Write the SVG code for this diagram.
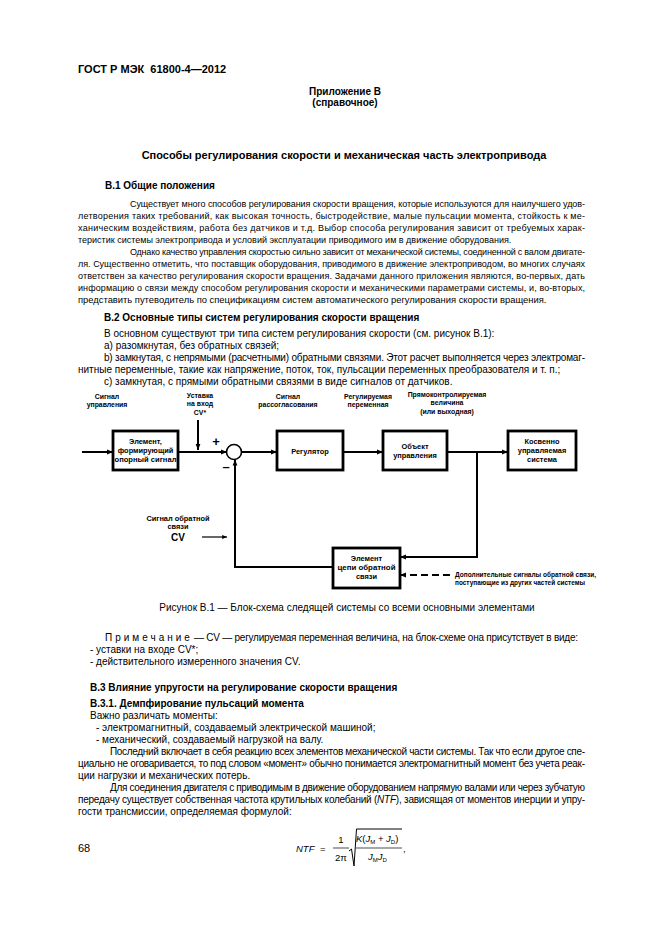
<svg xmlns="http://www.w3.org/2000/svg" width="661" height="935" viewBox="0 0 661 935">
<style>
text{font-family:"Liberation Sans",Arial,sans-serif;fill:#000}
.b{font-size:9px}
.b2{font-size:10px}
.h{font-size:10px;font-weight:bold}
.t{font-size:11px;font-weight:bold}
.d{font-size:6.9px;font-weight:bold;text-anchor:middle}
.dn{font-size:7.4px;font-weight:bold;text-anchor:middle}
.dl{font-size:6.4px;font-weight:bold}
.box{fill:#fff;stroke:#000;stroke-width:2.8}
.ln{fill:none;stroke:#000;stroke-width:2}
.th{fill:none;stroke:#000;stroke-width:1.2}
.c{text-anchor:middle}
.i{font-style:italic}
.f{font-size:9.5px}
</style>
<defs>
<marker id="ah" viewBox="0 0 10 10" refX="10" refY="5" markerWidth="3" markerHeight="3" orient="auto" markerUnits="strokeWidth"><path d="M0,1 L10,5 L0,9 z" fill="#000"/></marker>
<marker id="ah2" viewBox="0 0 10 10" refX="10" refY="5" markerWidth="5" markerHeight="4" orient="auto" markerUnits="strokeWidth"><path d="M0,1 L10,5 L0,9 z" fill="#000"/></marker>
</defs>
<rect width="661" height="935" fill="#fff"/>

<g id="page-text">
<text class="t" x="78" y="73" xml:space="preserve">ГОСТ Р МЭК  61800-4—2012</text>
<text class="h c" x="345" y="95">Приложение В</text>
<text class="h c" x="345" y="106">(справочное)</text>
<text class="t c" x="344" y="159">Способы регулирования скорости и механическая часть электропривода</text>

<text class="h" x="105" y="189">В.1 Общие положения</text>
<text class="b" x="130" y="207" textLength="455" lengthAdjust="spacing">Существует много способов регулирования скорости вращения, которые используются для наилучшего удов-</text>
<text class="b" x="78" y="219" textLength="507" lengthAdjust="spacing">летворения таких требований, как высокая точность, быстродействие, малые пульсации момента, стойкость к ме-</text>
<text class="b" x="78" y="231" textLength="507" lengthAdjust="spacing">ханическим воздействиям, работа без датчиков и т.д. Выбор способа регулирования зависит от требуемых харак-</text>
<text class="b" x="78" y="243">теристик системы электропривода и условий эксплуатации приводимого им в движение оборудования.</text>
<text class="b" x="130" y="255" textLength="455" lengthAdjust="spacing">Однако качество управления скоростью сильно зависит от механической системы, соединенной с валом двигате-</text>
<text class="b" x="78" y="267" textLength="507" lengthAdjust="spacing">ля. Существенно отметить, что поставщик оборудования, приводимого в движение электроприводом, во многих случаях</text>
<text class="b" x="78" y="279" textLength="507" lengthAdjust="spacing">ответствен за качество регулирования скорости вращения. Задачами данного приложения являются, во-первых, дать</text>
<text class="b" x="78" y="291" textLength="507" lengthAdjust="spacing">информацию о связи между способом регулирования скорости и механическими параметрами системы, и, во-вторых,</text>
<text class="b" x="78" y="303" style="font-size:9.4px">представить путеводитель по спецификациям систем автоматического регулирования скорости вращения.</text>

<text class="h" x="104" y="321">В.2 Основные типы систем регулирования скорости вращения</text>
<text class="b2" x="104" y="337">В основном существуют три типа систем регулирования скорости (см. рисунок В.1):</text>
<text class="b2" x="104" y="349">a) разомкнутая, без обратных связей;</text>
<text class="b2" x="104" y="361" textLength="481" lengthAdjust="spacing">b) замкнутая, с непрямыми (расчетными) обратными связями. Этот расчет выполняется через электромаг-</text>
<text class="b2" x="78" y="373">нитные переменные, такие как напряжение, поток, ток, пульсации переменных преобразователя и т. п.;</text>
<text class="b2" x="104" y="385">c) замкнутая, с прямыми обратными связями в виде сигналов от датчиков.</text>
</g>

<g id="labels">
<text class="d" x="107" y="399">Сигнал</text>
<text class="d" x="107" y="407">управления</text>
<text class="d" x="200" y="398">Уставка</text>
<text class="d" x="200" y="406">на вход</text>
<text class="d" x="200" y="415">CV*</text>
<text class="d" x="288" y="399">Сигнал</text>
<text class="d" x="288" y="407">рассогласования</text>
<text class="d" x="368" y="399">Регулируемая</text>
<text class="d" x="368" y="407">переменная</text>
<text class="d" x="447" y="397">Прямоконтролируемая</text>
<text class="d" x="447" y="405">величина</text>
<text class="d" x="447" y="414">(или выходная)</text>
<text class="dn" x="178" y="521">Сигнал обратной</text>
<text class="dn" x="178" y="529">связи</text>
<text class="d" x="178" y="541" style="font-size:10px">CV</text>
<text class="dl" x="455" y="577" textLength="141" lengthAdjust="spacingAndGlyphs">Дополнительные сигналы обратной связи,</text>
<text class="dl" x="455" y="585" textLength="130" lengthAdjust="spacingAndGlyphs">поступающие из других частей системы</text>
<text x="216" y="446" style="font-size:13px;font-weight:bold;text-anchor:middle">+</text>
<text x="226" y="471" style="font-size:13px;font-weight:bold;text-anchor:middle">–</text>
</g>

<g id="connectors">
<line class="ln" x1="82" y1="452" x2="113" y2="452" marker-end="url(#ah)"/>
<line class="ln" x1="178" y1="452" x2="227" y2="452" marker-end="url(#ah)"/>
<line class="ln" x1="198" y1="420" x2="198" y2="450" marker-end="url(#ah)"/>
<line class="ln" x1="241" y1="452" x2="277" y2="452" marker-end="url(#ah)"/>
<line class="ln" x1="343" y1="452" x2="383" y2="452" marker-end="url(#ah)"/>
<line class="ln" x1="447" y1="452" x2="508" y2="452" marker-end="url(#ah)"/>
<polyline class="ln" points="477,452 477,557 400,557" marker-end="url(#ah)"/>
<polyline class="ln" points="333,567 235,567 235,459.5" marker-end="url(#ah)"/>
<line class="ln" x1="450" y1="575" x2="400" y2="575" stroke-dasharray="7,4" marker-end="url(#ah)"/>
<line class="th" x1="202" y1="537" x2="227" y2="537" marker-end="url(#ah2)"/>
</g>

<g id="n-sum"><circle cx="234" cy="452" r="7.5" fill="#fff" stroke="#000" stroke-width="1.6"/></g>
<g id="n-ref">
<rect class="box" x="113" y="431" width="65" height="39"/>
<text class="dn" x="145.5" y="444">Элемент,</text>
<text class="dn" x="145.5" y="453">формирующий</text>
<text class="dn" x="145.5" y="462" textLength="62" lengthAdjust="spacingAndGlyphs">опорный сигнал</text>
</g>
<g id="n-reg">
<rect class="box" x="277" y="431" width="66" height="39"/>
<text class="dn" x="310" y="454">Регулятор</text>
</g>
<g id="n-obj">
<rect class="box" x="383" y="431" width="64" height="39"/>
<text class="dn" x="415" y="449">Объект</text>
<text class="dn" x="415" y="458">управления</text>
</g>
<g id="n-ind">
<rect class="box" x="508" y="431" width="68" height="39"/>
<text class="dn" x="542" y="444">Косвенно</text>
<text class="dn" x="542" y="453">управляемая</text>
<text class="dn" x="542" y="462">система</text>
</g>
<g id="n-fb">
<rect class="box" x="333" y="548" width="67" height="40"/>
<text class="dn" x="366.5" y="561">Элемент</text>
<text class="dn" x="366.5" y="570" textLength="58" lengthAdjust="spacingAndGlyphs">цепи обратной</text>
<text class="dn" x="366.5" y="579">связи</text>
</g>

<g id="page-text-2">
<text class="b2 c" x="347" y="611">Рисунок В.1 — Блок-схема следящей системы со всеми основными элементами</text>
<text class="b2" x="105" y="641" letter-spacing="3">Примечание</text>
<text class="b2" x="194" y="641" textLength="384" lengthAdjust="spacing">— CV — регулируемая переменная величина, на блок-схеме она присутствует в виде:</text>
<text class="b2" x="90" y="653">- уставки на входе CV*;</text>
<text class="b2" x="90" y="665">- действительного измеренного значения CV.</text>
<text class="h" x="90" y="691">В.3 Влияние упругости на регулирование скорости вращения</text>
<text class="h" x="90" y="707">В.3.1. Демпфирование пульсаций момента</text>
<text class="b2" x="90" y="719">Важно различать моменты:</text>
<text class="b2" x="96" y="731">- электромагнитный, создаваемый электрической машиной;</text>
<text class="b2" x="96" y="743">- механический, создаваемый нагрузкой на валу.</text>
<text class="b2" x="110" y="755" textLength="475" lengthAdjust="spacing">Последний включает в себя реакцию всех элементов механической части системы. Так что если другое спе-</text>
<text class="b2" x="78" y="767" textLength="507" lengthAdjust="spacing">циально не оговаривается, то под словом «момент» обычно понимается электромагнитный момент без учета реак-</text>
<text class="b2" x="78" y="779">ции нагрузки и механических потерь.</text>
<text class="b2" x="110" y="791" textLength="475" lengthAdjust="spacing">Для соединения двигателя с приводимым в движение оборудованием напрямую валами или через зубчатую</text>
<text class="b2" x="78" y="803" textLength="507" lengthAdjust="spacing">передачу существует собственная частота крутильных колебаний (<tspan class="i">NTF</tspan>), зависящая от моментов инерции и упру-</text>
<text class="b2" x="78" y="815">гости трансмиссии, определяемая формулой:</text>
<text x="78" y="852" style="font-size:11px">68</text>
</g>

<g id="formula">
<text class="f i" x="296" y="852">NTF</text>
<text class="f" x="320" y="852">=</text>
<text class="f c" x="341" y="843">1</text>
<line x1="333" y1="848" x2="349" y2="848" stroke="#000" stroke-width="0.7"/>
<text class="f c" x="341" y="861">2π</text>
<polyline points="349,851 351.5,849 354,866 356.5,829 402,829" fill="none" stroke="#000" stroke-width="1"/>
<text class="f" x="356" y="842"><tspan class="i">K</tspan>(<tspan class="i">J</tspan><tspan style="font-size:6px" dy="2">M</tspan><tspan dy="-2"> + </tspan><tspan class="i">J</tspan><tspan style="font-size:6px" dy="2">D</tspan><tspan dy="-2">)</tspan></text>
<line x1="356" y1="848" x2="402" y2="848" stroke="#000" stroke-width="0.7"/>
<text class="f" x="368" y="860"><tspan class="i">J</tspan><tspan style="font-size:6px" dy="2">M</tspan><tspan class="i" dy="-2">J</tspan><tspan style="font-size:6px" dy="2">D</tspan></text>
<text class="f" x="403" y="852">,</text>
</g>
</svg>
